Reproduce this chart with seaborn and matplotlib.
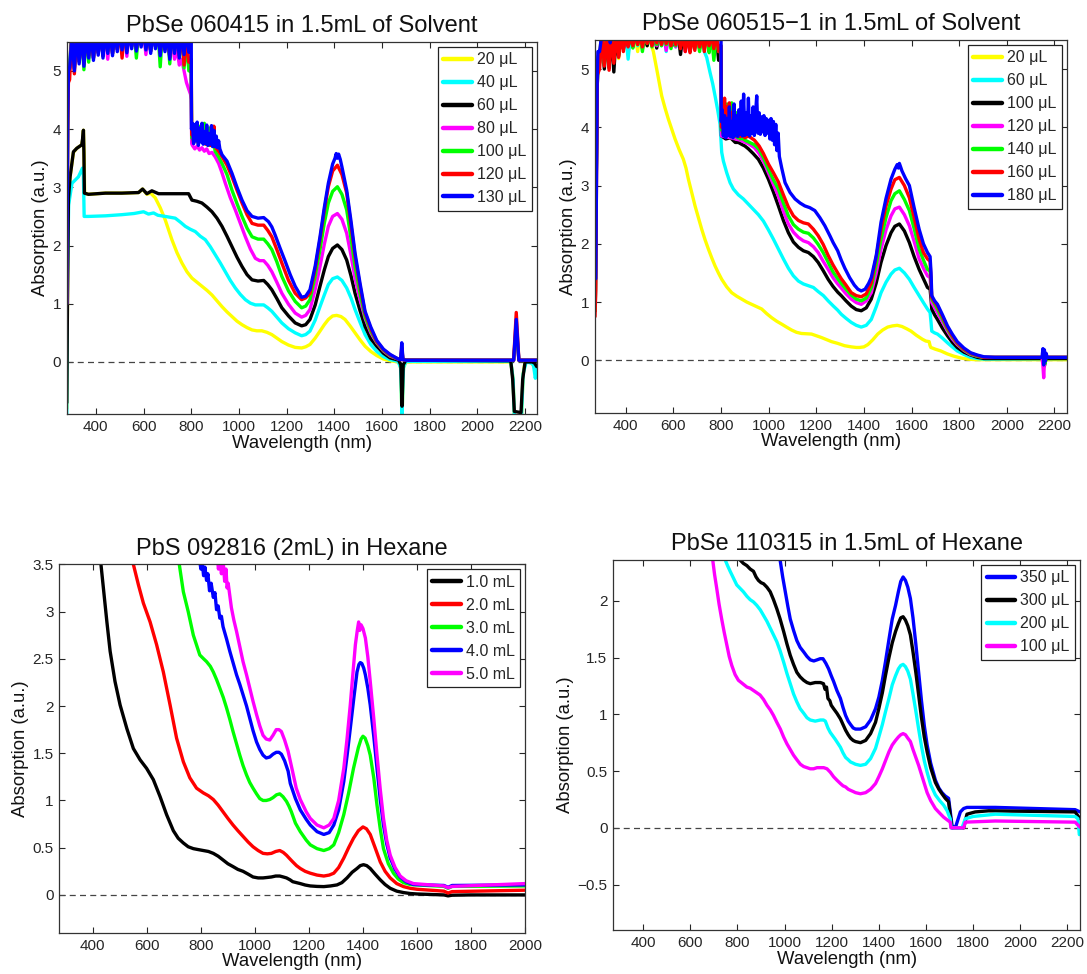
import matplotlib
matplotlib.use("Agg")
import matplotlib.pyplot as plt
from matplotlib.ticker import FuncFormatter
import numpy as np
import pandas as pd
import seaborn as sns

# ---------------------------------------------------------------------------
# Panel A : PbSe 060415 in 1.5mL of Solvent
# ---------------------------------------------------------------------------
a_title = "PbSe 060415 in 1.5mL of Solvent"
a_labels = ["20 \u03bcL", "40 \u03bcL", "60 \u03bcL", "80 \u03bcL", "100 \u03bcL", "120 \u03bcL", "130 \u03bcL"]
a_colors = ["#ffff00", "#00ffff", "#000000", "#ff00ff", "#00ff00", "#ff0000", "#0000ff"]

# wavelength grids of the detector-saturated stretches
a_sat_wl = np.arange(290, 800, 10)
a_noise_wl_long = np.arange(805, 925, 5)
a_noise_wl = np.arange(805, 905, 5)

a_20 = [(278, -0.8), (281, 1.0), (285, 2.8), (292, 3.18), (306, 3.6), (320, 3.67), (341, 3.73), (346, 3.85),
        (348, 3.98), (351, 3.5), (353, 2.9), (369, 2.88), (440, 2.9), (510, 2.9), (580, 2.91), (596, 2.97),
        (614, 2.88), (630, 2.9), (649, 2.82), (670, 2.65), (691, 2.44), (719, 2.10), (740, 1.88), (761, 1.70),
        (782, 1.55), (803, 1.44), (824, 1.37), (845, 1.30), (866, 1.23), (887, 1.15), (908, 1.05), (929, 0.95),
        (950, 0.86), (971, 0.78), (992, 0.70), (1013, 0.64), (1034, 0.59), (1055, 0.55), (1075, 0.535),
        (1096, 0.535), (1117, 0.51), (1138, 0.47), (1159, 0.41), (1180, 0.35), (1208, 0.29), (1236, 0.25),
        (1263, 0.24), (1280, 0.26), (1298, 0.30), (1320, 0.41), (1340, 0.53), (1358, 0.64), (1375, 0.73),
        (1393, 0.79), (1410, 0.80), (1428, 0.78), (1445, 0.73), (1466, 0.62), (1487, 0.50), (1508, 0.38),
        (1529, 0.27), (1553, 0.18), (1578, 0.11), (1606, 0.05), (1634, 0.02), (1670, 0.0), (1678, -0.1),
        (1684, -0.95), (1690, -0.1), (1700, 0.0), (2140, 0.0), (2150, -0.3), (2155, -0.95), (2185, -0.95),
        (2192, -0.2), (2200, 0.0), (2225, 0.0), (2240, -0.1), (2249, -0.25)]

a_40 = [(278, -0.95), (281, 1.5), (286, 2.7), (300, 3.07), (327, 3.18), (344, 3.33), (348, 3.2), (351, 2.5),
        (369, 2.50), (440, 2.51), (509, 2.53), (560, 2.55), (600, 2.58), (621, 2.54), (642, 2.56), (660, 2.52),
        (691, 2.50), (733, 2.47), (755, 2.40), (775, 2.33), (796, 2.28), (817, 2.24), (838, 2.16), (859, 2.10),
        (880, 1.98), (901, 1.84), (922, 1.70), (943, 1.55), (964, 1.40), (985, 1.27), (1006, 1.16), (1027, 1.07),
        (1048, 1.01), (1069, 0.98), (1087, 0.98), (1104, 0.98), (1121, 0.93), (1138, 0.87), (1159, 0.77),
        (1180, 0.67), (1208, 0.57), (1236, 0.50), (1263, 0.45), (1280, 0.47), (1298, 0.53), (1320, 0.72),
        (1340, 0.95), (1358, 1.15), (1375, 1.33), (1393, 1.43), (1413, 1.46), (1432, 1.40), (1452, 1.27),
        (1470, 1.10), (1487, 0.90), (1508, 0.68), (1529, 0.47), (1553, 0.30), (1578, 0.18), (1606, 0.09),
        (1634, 0.04), (1668, 0.01), (1678, -0.1), (1684, -0.95), (1690, -0.1), (1700, 0.01), (2140, 0.01),
        (2150, -0.3), (2155, -0.95), (2185, -0.95), (2192, -0.2), (2205, 0.0), (2225, -0.02), (2235, -0.05),
        (2243, -0.28), (2249, -0.12)]

a_60 = [(278, -0.7), (281, 1.0), (285, 2.8), (292, 3.18), (306, 3.61), (320, 3.67), (341, 3.73), (345, 3.85),
        (348, 3.98), (350, 3.6), (352, 2.9), (369, 2.88), (440, 2.90), (509, 2.90), (579, 2.91), (596, 2.97),
        (614, 2.89), (635, 2.94), (663, 2.89), (789, 2.89), (803, 2.78), (824, 2.76), (845, 2.73), (866, 2.66),
        (887, 2.58), (908, 2.47), (929, 2.33), (950, 2.16), (971, 1.98), (992, 1.80), (1013, 1.64), (1034, 1.50),
        (1055, 1.41), (1080, 1.39), (1104, 1.40), (1121, 1.33), (1138, 1.24), (1159, 1.09), (1180, 0.93),
        (1208, 0.79), (1236, 0.67), (1263, 0.62), (1280, 0.64), (1298, 0.73), (1320, 0.98), (1340, 1.30),
        (1358, 1.58), (1375, 1.81), (1393, 1.95), (1413, 2.01), (1432, 1.93), (1452, 1.75), (1470, 1.48),
        (1487, 1.18), (1508, 0.88), (1529, 0.61), (1553, 0.40), (1578, 0.27), (1606, 0.15), (1634, 0.07),
        (1670, 0.03), (1679, -0.05), (1684, -0.76), (1689, -0.05), (1700, 0.03), (2140, 0.02), (2148, -0.3),
        (2155, -0.85), (2183, -0.87), (2190, -0.3), (2200, 0.0), (2230, 0.0), (2240, -0.02), (2249, -0.08)]

a_80_head = [(278, 1.0), (282, 4.0), (285, 4.9)]
a_80_sat = [5.09, 5.7, 5.04, 5.7, 5.16, 5.7, 5.12, 5.7, 5.26, 5.7,
            5.22, 5.7, 5.31, 5.7, 5.26, 5.7, 5.2, 5.7, 5.3, 5.7,
            5.37, 5.7, 5.4, 5.7, 5.25, 5.7, 5.42, 5.7, 5.38, 5.7,
            5.45, 5.7, 5.28, 5.7, 5.34, 5.7, 5.42, 5.7, 5.3, 5.7,
            5.37, 5.6, 5.24, 5.5, 5.2, 5.4, 5.1, 5.2, 5.0, 4.8,
            4.68]
a_80_tail = [(797, 4.6), (800, 4.5), (802, 3.75), (805, 3.72), (815, 3.66), (825, 3.71), (835, 3.64), (845, 3.68),
             (855, 3.62), (865, 3.66), (875, 3.58), (887, 3.6), (901, 3.52), (915, 3.41), (929, 3.25), (943, 3.07),
             (964, 2.82), (985, 2.61), (1006, 2.38), (1027, 2.15), (1048, 1.94), (1069, 1.78), (1087, 1.74),
             (1104, 1.74), (1121, 1.66), (1138, 1.55), (1159, 1.37), (1180, 1.18), (1208, 0.99), (1236, 0.84),
             (1263, 0.77), (1280, 0.80), (1298, 0.90), (1320, 1.25), (1340, 1.64), (1358, 2.02), (1375, 2.33),
             (1393, 2.50), (1413, 2.55), (1432, 2.45), (1452, 2.21), (1470, 1.83), (1487, 1.44), (1508, 1.07),
             (1529, 0.75), (1553, 0.50), (1578, 0.33), (1606, 0.19), (1634, 0.10), (1668, 0.05), (1700, 0.03),
             (2152, 0.03), (2163, 0.55), (2174, 0.03), (2249, 0.03)]

a_100_head = [(278, 1.0), (282, 4.0), (285, 4.95)]
a_100_sat = [5.09, 5.7, 5.04, 5.7, 5.16, 5.7, 5.02, 5.7, 5.15, 5.7,
             5.22, 5.7, 5.31, 5.7, 5.26, 5.7, 5.34, 5.7, 5.3, 5.7,
             5.37, 5.7, 5.4, 5.7, 5.35, 5.7, 5.42, 5.7, 5.22, 5.7,
             5.45, 5.7, 5.4, 5.7, 5.34, 5.7, 5.42, 5.7, 5.07, 5.7,
             5.37, 5.7, 5.12, 5.7, 5.34, 5.7, 5.26, 5.7, 5.05, 5.5,
             5.0]
a_100_mid = [(797, 5.0), (800, 5.0), (802, 3.85)]
a_100_noise = [3.95, 3.78, 4.0, 3.82, 3.9, 3.75, 4.05, 3.8, 3.95, 3.76,
               4.1, 3.76, 3.9, 3.72, 4.02, 3.72, 3.88, 3.7, 3.8, 3.62]
a_100_tail = [(915, 3.52), (929, 3.41), (950, 3.22), (971, 2.95), (992, 2.72), (1013, 2.50), (1034, 2.30),
              (1055, 2.15), (1080, 2.11), (1104, 2.11), (1121, 2.03), (1138, 1.93), (1159, 1.72), (1180, 1.47),
              (1208, 1.22), (1236, 1.04), (1263, 0.93), (1280, 0.96), (1298, 1.07), (1320, 1.48), (1340, 1.93),
              (1358, 2.38), (1375, 2.73), (1393, 2.93), (1413, 3.01), (1432, 2.88), (1452, 2.61), (1470, 2.12),
              (1487, 1.64), (1508, 1.18), (1529, 0.78), (1553, 0.53), (1578, 0.34), (1606, 0.20), (1634, 0.11),
              (1668, 0.05), (1678, 0.04), (1683, 0.2), (1688, 0.04), (1700, 0.03), (2152, 0.03), (2163, 0.6),
              (2174, 0.03), (2249, 0.03)]

a_120_head = [(278, 1.0), (282, 4.0), (285, 4.8)]
a_120_sat = [4.85, 5.7, 4.95, 5.7, 5.16, 5.7, 5.12, 5.7, 5.26, 5.7,
             5.22, 5.7, 5.31, 5.7, 5.26, 5.7, 5.34, 5.7, 5.3, 5.7,
             5.37, 5.7, 5.22, 5.7, 5.35, 5.7, 5.42, 5.7, 5.38, 5.7,
             5.45, 5.7, 5.4, 5.7, 5.34, 5.7, 5.42, 5.7, 5.3, 5.7,
             5.37, 5.7, 5.24, 5.7, 5.34, 5.7, 5.26, 5.7, 5.1, 5.6,
             5.15]
a_120_mid = [(797, 5.2), (800, 5.2), (802, 3.9)]
a_120_noise = [4.0, 3.76, 3.95, 3.85, 4.05, 3.76, 3.9, 3.82, 4.0, 3.78,
               3.9, 3.74, 3.95, 3.76, 3.85, 3.72, 3.95, 3.74, 4.05, 3.7]
a_120_tail = [(915, 3.62), (929, 3.53), (950, 3.38), (971, 3.18), (992, 2.95), (1013, 2.73), (1034, 2.53),
              (1055, 2.38), (1080, 2.35), (1104, 2.35), (1121, 2.26), (1138, 2.15), (1159, 1.93), (1180, 1.70),
              (1208, 1.40), (1236, 1.18), (1263, 1.07), (1280, 1.10), (1298, 1.18), (1320, 1.60), (1340, 2.10),
              (1358, 2.60), (1375, 3.01), (1393, 3.28), (1413, 3.38), (1432, 3.22), (1452, 2.90), (1470, 2.35),
              (1487, 1.81), (1508, 1.30), (1529, 0.84), (1553, 0.57), (1578, 0.35), (1606, 0.21), (1634, 0.12),
              (1668, 0.05), (1678, 0.04), (1683, 0.25), (1688, 0.04), (1700, 0.03), (2152, 0.03), (2163, 0.85),
              (2174, 0.03), (2249, 0.03)]

a_130_head = [(278, 1.0), (282, 4.2), (285, 5.0)]
a_130_sat = [5.05, 5.6, 5.0, 5.7, 5.12, 5.7, 5.08, 5.7, 5.22, 5.7,
             5.18, 5.7, 5.27, 5.7, 5.22, 5.7, 5.3, 5.7, 5.26, 5.7,
             5.33, 5.7, 5.36, 5.7, 5.31, 5.7, 5.38, 5.7, 5.34, 5.7,
             5.41, 5.7, 5.36, 5.7, 5.3, 5.7, 5.38, 5.7, 5.26, 5.7,
             5.33, 5.7, 5.2, 5.7, 5.3, 5.7, 5.22, 5.7, 5.28, 5.7,
             5.32]
a_130_mid = [(797, 5.7), (800, 5.7), (801, 4.0)]
a_130_noise = [4.1, 3.75, 4.08, 3.8, 4.12, 3.72, 4.02, 3.78, 4.1, 3.74, 3.96, 3.75,
               4.07, 3.72, 3.92, 3.74, 4.06, 3.7, 3.98, 3.7, 3.88, 3.68, 3.8, 3.66]
a_130_tail = [(929, 3.56), (950, 3.45), (971, 3.24), (992, 3.00), (1013, 2.78), (1034, 2.60), (1055, 2.50),
              (1080, 2.47), (1104, 2.48), (1124, 2.41), (1138, 2.32), (1152, 2.18), (1173, 1.95), (1194, 1.73),
              (1215, 1.50), (1236, 1.30), (1263, 1.11), (1280, 1.13), (1298, 1.24), (1320, 1.65), (1340, 2.15),
              (1358, 2.65), (1375, 3.07), (1393, 3.40), (1403, 3.50), (1408, 3.58), (1413, 3.50), (1418, 3.57),
              (1425, 3.48), (1432, 3.35), (1452, 2.95), (1470, 2.42), (1487, 1.87), (1508, 1.35), (1529, 0.87),
              (1553, 0.60), (1578, 0.37), (1606, 0.22), (1634, 0.13), (1668, 0.05), (1678, 0.04), (1683, 0.33),
              (1688, 0.04), (1700, 0.03), (2152, 0.03), (2163, 0.73), (2174, 0.03), (2249, 0.03)]

# ---------------------------------------------------------------------------
# Panel B : PbSe 060515-1 in 1.5mL of Solvent
# ---------------------------------------------------------------------------
b_title = "PbSe 060515\u22121 in 1.5mL of Solvent"
b_labels = ["20 \u03bcL", "60 \u03bcL", "100 \u03bcL", "120 \u03bcL", "140 \u03bcL", "160 \u03bcL", "180 \u03bcL"]
b_colors = a_colors

b_sat_wl = np.arange(290, 800, 10)
b_noise_wl = np.arange(805, 905, 5)
b_noise_wl_long = np.arange(805, 1050, 5)

b_20_head = [(272, 0.9), (275, 2.5), (279, 4.5), (283, 5.2)]
b_20_sat = [5.3, 5.6, 5.35, 5.6, 5.3, 5.6, 5.38, 5.6, 5.18, 5.6,
            5.4, 5.6, 5.25, 5.6, 5.42, 5.6, 5.3, 5.6, 5.44, 5.6,
            5.4, 5.6, 5.38]
b_20_tail = [(516, 5.3), (530, 5.0), (551, 4.54), (565, 4.33), (579, 4.14), (593, 3.97), (607, 3.80),
             (624, 3.62), (642, 3.45), (653, 3.30), (663, 3.11), (677, 2.88), (691, 2.65), (705, 2.45),
             (719, 2.25), (733, 2.07), (747, 1.91), (761, 1.76), (775, 1.62), (789, 1.50), (803, 1.39),
             (824, 1.26), (845, 1.16), (866, 1.10), (887, 1.05), (908, 1.00), (929, 0.96), (950, 0.92),
             (971, 0.88), (992, 0.80), (1013, 0.73), (1034, 0.67), (1055, 0.62), (1075, 0.57), (1096, 0.52),
             (1117, 0.48), (1138, 0.46), (1159, 0.455), (1180, 0.45), (1201, 0.42), (1222, 0.39), (1243, 0.355),
             (1264, 0.32), (1290, 0.29), (1319, 0.25), (1347, 0.23), (1368, 0.22), (1382, 0.22), (1400, 0.23),
             (1417, 0.27), (1437, 0.35), (1458, 0.45), (1479, 0.52), (1500, 0.57), (1520, 0.59), (1540, 0.60),
             (1560, 0.58), (1580, 0.54), (1598, 0.50), (1620, 0.43), (1646, 0.36), (1660, 0.33), (1674, 0.32),
             (1678, 0.25), (1681, 0.22), (1700, 0.19), (1723, 0.16), (1750, 0.11), (1778, 0.07), (1806, 0.04),
             (1834, 0.02), (1870, 0.01), (2252, 0.01)]

b_60_head = [(272, 0.9), (275, 2.5), (279, 4.5), (283, 5.2)]
b_60_sat = [5.2, 5.6, 5.18, 5.6, 5.25, 5.6, 5.3, 5.6, 5.28, 5.6,
            5.35, 5.6, 5.17, 5.6, 5.38, 5.6, 5.4, 5.6, 5.36, 5.6,
            5.42, 5.6, 5.4, 5.6, 5.44, 5.6, 5.4, 5.6, 5.3, 5.6,
            5.42, 5.6, 5.38, 5.6, 5.44, 5.6, 5.4, 5.6, 5.42, 5.6,
            5.36, 5.6, 5.4, 5.6, 5.3]
b_60_tail = [(740, 5.2), (754, 4.94), (765, 4.75), (775, 4.54), (786, 4.3), (796, 4.05), (803, 3.57),
             (810, 3.42), (824, 3.22), (838, 3.05), (852, 2.94), (873, 2.84), (894, 2.77), (915, 2.68),
             (936, 2.59), (957, 2.50), (978, 2.39), (999, 2.24), (1020, 2.08), (1041, 1.91), (1062, 1.74),
             (1083, 1.58), (1104, 1.45), (1125, 1.36), (1146, 1.31), (1167, 1.28), (1188, 1.25), (1208, 1.18),
             (1230, 1.11), (1250, 1.02), (1272, 0.93), (1290, 0.86), (1305, 0.79), (1325, 0.72), (1347, 0.65),
             (1368, 0.60), (1389, 0.57), (1410, 0.60), (1431, 0.70), (1452, 0.92), (1472, 1.16), (1493, 1.34),
             (1514, 1.48), (1530, 1.55), (1549, 1.58), (1570, 1.50), (1591, 1.39), (1611, 1.25), (1632, 1.11),
             (1650, 0.99), (1667, 0.88), (1678, 0.82), (1682, 0.65), (1685, 0.50), (1697, 0.47), (1709, 0.45),
             (1730, 0.38), (1751, 0.30), (1771, 0.23), (1792, 0.16), (1820, 0.10), (1848, 0.05), (1876, 0.03),
             (1904, 0.02), (2252, 0.03)]

b_100_head = [(272, 0.85), (275, 2.5), (279, 4.5), (283, 5.1)]
b_100_sat = [5.1, 5.6, 5.0, 5.6, 5.02, 5.6, 4.95, 5.6, 5.22, 5.6,
             5.35, 5.6, 5.4, 5.6, 5.38, 5.6, 5.45, 5.6, 5.44, 5.6,
             5.4, 5.6, 5.42, 5.6, 5.36, 5.6, 5.45, 5.6, 5.38, 5.6,
             5.42, 5.6, 5.44, 5.6, 5.25, 5.6, 5.38, 5.6, 5.3, 5.6,
             5.4, 5.6, 5.35, 5.6, 5.4, 5.6, 5.3, 5.6, 5.42, 5.6,
             5.15]
b_100_tail = [(797, 5.3), (800, 5.3), (802, 3.85), (820, 3.8), (840, 3.82), (860, 3.74), (873, 3.74),
              (890, 3.70), (900, 3.68), (915, 3.63), (935, 3.55), (957, 3.45), (978, 3.30), (999, 3.11),
              (1020, 2.89), (1041, 2.65), (1062, 2.40), (1083, 2.19), (1104, 2.03), (1125, 1.94), (1146, 1.88),
              (1167, 1.85), (1188, 1.78), (1208, 1.68), (1229, 1.54), (1250, 1.39), (1270, 1.27), (1290, 1.17),
              (1305, 1.11), (1325, 1.02), (1347, 0.93), (1368, 0.87), (1389, 0.85), (1410, 0.90), (1431, 1.05),
              (1452, 1.33), (1472, 1.68), (1493, 1.97), (1514, 2.19), (1530, 2.30), (1549, 2.34), (1570, 2.22),
              (1591, 2.02), (1611, 1.78), (1632, 1.56), (1650, 1.40), (1667, 1.25), (1678, 1.22), (1682, 1.05),
              (1685, 0.88), (1697, 0.78), (1709, 0.70), (1730, 0.55), (1751, 0.42), (1771, 0.31), (1792, 0.22),
              (1820, 0.14), (1848, 0.09), (1876, 0.05), (1904, 0.03), (2150, 0.03), (2158, -0.1), (2165, 0.03),
              (2252, 0.03)]

b_120_head = [(272, 0.85), (275, 2.5), (279, 4.5), (283, 5.1)]
b_120_sat = [5.15, 5.6, 5.12, 5.6, 5.1, 5.6, 5.2, 5.6, 5.3, 5.6,
             5.36, 5.6, 5.42, 5.6, 5.4, 5.6, 5.46, 5.6, 5.35, 5.6,
             5.45, 5.6, 5.42, 5.6, 5.4, 5.6, 5.44, 5.6, 5.32, 5.6,
             5.45, 5.6, 5.38, 5.6, 5.42, 5.6, 5.3, 5.6, 5.4, 5.6,
             5.44, 5.6, 5.36, 5.6, 5.42, 5.6, 5.38, 5.6, 5.4, 5.6,
             5.35]
b_120_tail = [(797, 5.3), (800, 5.3), (802, 3.85), (840, 3.82), (880, 3.78), (915, 3.72), (940, 3.65),
              (960, 3.55), (978, 3.42), (999, 3.22), (1020, 3.02), (1041, 2.82), (1062, 2.56), (1083, 2.34),
              (1104, 2.20), (1125, 2.11), (1146, 2.05), (1167, 2.02), (1188, 1.95), (1208, 1.85), (1229, 1.70),
              (1250, 1.56), (1270, 1.42), (1290, 1.31), (1305, 1.24), (1325, 1.14), (1347, 1.05), (1368, 0.99),
              (1389, 0.96), (1410, 1.02), (1431, 1.16), (1452, 1.50), (1472, 1.91), (1493, 2.24), (1514, 2.48),
              (1530, 2.60), (1549, 2.63), (1570, 2.50), (1591, 2.31), (1611, 2.04), (1632, 1.74), (1650, 1.58),
              (1667, 1.45), (1678, 1.42), (1682, 1.2), (1685, 0.99), (1697, 0.90), (1709, 0.82), (1730, 0.66),
              (1751, 0.50), (1771, 0.37), (1792, 0.27), (1820, 0.17), (1848, 0.10), (1876, 0.07), (1904, 0.05),
              (2148, 0.05), (2152, -0.1), (2155, -0.30), (2158, -0.05), (2163, 0.1), (2168, 0.05), (2252, 0.05)]

b_140_head = [(272, 0.85), (275, 2.5), (279, 4.5), (283, 5.1)]
b_140_sat = [5.12, 5.6, 5.08, 5.6, 5.15, 5.6, 5.25, 5.6, 5.28, 5.6,
             5.4, 5.6, 5.44, 5.6, 5.36, 5.6, 5.42, 5.6, 5.3, 5.6,
             5.44, 5.6, 5.38, 5.6, 5.42, 5.6, 5.4, 5.6, 5.42, 5.6,
             5.35, 5.6, 5.4, 5.6, 5.44, 5.6, 5.36, 5.6, 5.42, 5.6,
             5.38, 5.6, 5.3, 5.6, 5.42, 5.6, 5.28, 5.6, 5.15, 5.6,
             5.3]
b_140_mid = [(797, 5.4), (800, 5.4), (802, 3.95)]
b_140_noise = [4.2, 3.88, 4.3, 3.85, 4.4, 3.88, 4.3, 3.84, 4.42, 3.86,
               4.2, 3.84, 4.25, 3.82, 4.1, 3.8, 4.05, 3.8, 3.95, 3.78]
b_140_tail = [(915, 3.75), (940, 3.7), (960, 3.62), (978, 3.48), (999, 3.28), (1020, 3.10), (1041, 2.94),
              (1062, 2.70), (1083, 2.48), (1104, 2.33), (1125, 2.25), (1146, 2.20), (1167, 2.18), (1188, 2.10),
              (1208, 1.99), (1229, 1.85), (1250, 1.68), (1270, 1.52), (1290, 1.40), (1305, 1.32), (1325, 1.22),
              (1347, 1.12), (1368, 1.05), (1389, 1.02), (1410, 1.07), (1431, 1.25), (1452, 1.65), (1472, 2.08),
              (1493, 2.45), (1514, 2.74), (1530, 2.86), (1549, 2.91), (1570, 2.76), (1591, 2.57), (1611, 2.26),
              (1632, 1.91), (1650, 1.72), (1667, 1.56), (1678, 1.53), (1682, 1.3), (1685, 1.05), (1697, 0.97),
              (1709, 0.88), (1730, 0.71), (1751, 0.53), (1771, 0.40), (1792, 0.29), (1820, 0.18), (1848, 0.11),
              (1876, 0.07), (1904, 0.05), (2150, 0.05), (2155, 0.15), (2160, -0.05), (2165, 0.05), (2252, 0.05)]

b_160_head = [(271, 0.75), (274, 1.2), (277, 3.0), (281, 4.9)]
b_160_sat = [5.0, 5.6, 5.05, 5.6, 4.98, 5.6, 5.1, 5.6, 5.2, 5.6,
             5.3, 5.6, 5.38, 5.6, 5.4, 5.6, 5.42, 5.6, 5.38, 5.6,
             5.44, 5.6, 5.4, 5.6, 5.45, 5.6, 5.42, 5.6, 5.44, 5.6,
             5.4, 5.6, 5.42, 5.6, 5.35, 5.6, 5.3, 5.6, 5.28, 5.6,
             5.32, 5.6, 5.38, 5.6, 5.3, 5.6, 5.4, 5.6, 5.35, 5.6,
             5.3]
b_160_mid = [(797, 5.4), (800, 5.4), (802, 4.0)]
b_160_noise = [4.45, 3.9, 4.5, 3.88, 4.35, 3.9, 4.42, 3.86, 4.25, 3.88,
               4.3, 3.85, 4.1, 3.86, 4.2, 3.84, 4.0, 3.85, 4.15, 3.82]
b_160_tail = [(915, 3.85), (940, 3.78), (960, 3.68), (978, 3.55), (999, 3.37), (1020, 3.22), (1041, 3.06),
              (1062, 2.84), (1083, 2.63), (1104, 2.48), (1125, 2.40), (1146, 2.36), (1167, 2.34), (1188, 2.25),
              (1208, 2.14), (1229, 1.99), (1250, 1.80), (1270, 1.64), (1290, 1.50), (1305, 1.40), (1325, 1.29),
              (1347, 1.16), (1368, 1.11), (1389, 1.09), (1410, 1.14), (1431, 1.33), (1452, 1.78), (1472, 2.25),
              (1493, 2.65), (1514, 2.94), (1530, 3.10), (1549, 3.14), (1570, 3.00), (1591, 2.79), (1611, 2.45),
              (1632, 2.08), (1650, 1.85), (1667, 1.74), (1678, 1.70), (1682, 1.35), (1685, 1.08), (1697, 1.0),
              (1709, 0.93), (1730, 0.75), (1751, 0.56), (1771, 0.42), (1792, 0.30), (1820, 0.19), (1848, 0.12),
              (1876, 0.08), (1904, 0.05), (2150, 0.05), (2154, 0.18), (2158, -0.02), (2163, 0.12), (2168, 0.05),
              (2252, 0.05)]

b_180_head = [(274, 1.4), (277, 3.0), (280, 4.8), (283, 5.3), (290, 5.3), (300, 5.6), (330, 5.6),
              (335, 5.45), (340, 5.6), (795, 5.6), (800, 5.6), (801, 4.1)]
b_180_noise = [4.3, 3.85, 4.2, 3.82, 4.15, 3.86, 4.35, 3.84, 4.1, 3.82,
               4.4, 3.86, 4.2, 3.84, 4.3, 3.88, 4.45, 3.85, 4.57, 3.86,
               4.25, 3.88, 4.5, 3.85, 4.2, 3.9, 4.35, 3.86, 4.22, 4.54,
               3.9, 4.25, 3.88, 4.18, 3.92, 4.2, 3.86, 4.15, 3.9, 4.12,
               3.8, 4.15, 3.78, 4.1, 3.7, 4.05, 3.6, 3.9, 3.5]
b_180_tail = [(1055, 3.3), (1069, 3.05), (1090, 2.88), (1111, 2.77), (1132, 2.70), (1152, 2.65), (1173, 2.62),
              (1194, 2.57), (1215, 2.45), (1236, 2.31), (1257, 2.14), (1271, 2.02), (1290, 1.88), (1305, 1.72),
              (1320, 1.58), (1340, 1.42), (1360, 1.29), (1375, 1.22), (1389, 1.19), (1405, 1.22), (1420, 1.32),
              (1431, 1.42), (1452, 1.8), (1472, 2.37), (1493, 2.78), (1514, 3.11), (1530, 3.28), (1540, 3.36),
              (1545, 3.30), (1549, 3.38), (1555, 3.31), (1560, 3.25), (1575, 3.12), (1591, 3.00), (1611, 2.62),
              (1632, 2.25), (1650, 2.0), (1667, 1.85), (1678, 1.78), (1682, 1.5), (1685, 1.11), (1697, 1.02),
              (1709, 0.96), (1730, 0.78), (1751, 0.59), (1771, 0.45), (1792, 0.32), (1820, 0.21), (1848, 0.13),
              (1876, 0.09), (1904, 0.06), (1950, 0.05), (2148, 0.05), (2152, 0.2), (2155, -0.08), (2158, 0.18),
              (2161, -0.02), (2165, 0.12), (2170, 0.05), (2252, 0.05)]

# ---------------------------------------------------------------------------
# Panel C : PbS 092816 (2mL) in Hexane
# ---------------------------------------------------------------------------
c_title = "PbS 092816 (2mL) in Hexane"
c_labels = ["1.0 mL", "2.0 mL", "3.0 mL", "4.0 mL", "5.0 mL"]
c_colors = ["#000000", "#ff0000", "#00ff00", "#0000ff", "#ff00ff"]

c_10 = [(425, 3.65), (430, 3.5), (439, 3.25), (452, 2.89), (464, 2.58), (482, 2.26), (501, 2.01), (526, 1.76),
        (550, 1.55), (575, 1.43), (599, 1.34), (624, 1.22), (649, 1.04), (673, 0.85), (698, 0.68), (716, 0.60),
        (735, 0.55), (753, 0.51), (772, 0.49), (790, 0.48), (809, 0.47), (828, 0.46), (846, 0.44), (864, 0.41),
        (882, 0.37), (900, 0.33), (919, 0.30), (937, 0.27), (956, 0.25), (975, 0.22), (993, 0.19), (1012, 0.18),
        (1030, 0.18), (1046, 0.185), (1061, 0.19), (1077, 0.20), (1092, 0.20), (1105, 0.19), (1117, 0.18),
        (1130, 0.16), (1140, 0.14), (1154, 0.13), (1168, 0.12), (1186, 0.105), (1205, 0.095), (1230, 0.09),
        (1255, 0.088), (1280, 0.095), (1304, 0.106), (1322, 0.13), (1341, 0.18), (1360, 0.24), (1378, 0.28),
        (1390, 0.31), (1402, 0.32), (1414, 0.31), (1427, 0.28), (1445, 0.22), (1464, 0.16), (1482, 0.11),
        (1501, 0.07), (1525, 0.04), (1550, 0.025), (1575, 0.015), (1600, 0.01), (1700, 0.0), (1715, -0.01),
        (1730, -0.003), (1800, 0.0), (2000, 0.0)]

c_20 = [(545, 3.6), (550, 3.5), (569, 3.28), (587, 3.09), (612, 2.89), (636, 2.65), (661, 2.36), (686, 2.01),
        (710, 1.66), (735, 1.41), (759, 1.24), (784, 1.13), (809, 1.08), (828, 1.05), (846, 1.01), (864, 0.95),
        (882, 0.88), (900, 0.81), (919, 0.74), (937, 0.68), (956, 0.62), (975, 0.56), (993, 0.51), (1012, 0.47),
        (1030, 0.44), (1046, 0.435), (1061, 0.44), (1077, 0.46), (1092, 0.47), (1105, 0.45), (1117, 0.42),
        (1130, 0.38), (1140, 0.35), (1154, 0.31), (1168, 0.28), (1186, 0.25), (1205, 0.23), (1230, 0.21),
        (1255, 0.20), (1275, 0.21), (1292, 0.23), (1310, 0.29), (1329, 0.39), (1347, 0.50), (1365, 0.60),
        (1383, 0.68), (1400, 0.72), (1413, 0.70), (1427, 0.64), (1445, 0.50), (1464, 0.35), (1482, 0.25),
        (1501, 0.18), (1525, 0.12), (1550, 0.088), (1575, 0.07), (1600, 0.06), (1700, 0.04), (1715, 0.02),
        (1730, 0.035), (2000, 0.05)]

c_30 = [(715, 3.6), (720, 3.5), (735, 3.21), (753, 3.0), (772, 2.75), (796, 2.54), (810, 2.5), (821, 2.47),
        (835, 2.42), (846, 2.36), (858, 2.28), (870, 2.19), (883, 2.09), (895, 1.98), (907, 1.86), (919, 1.73),
        (932, 1.60), (944, 1.48), (956, 1.37), (969, 1.27), (981, 1.19), (993, 1.13), (1006, 1.07), (1018, 1.02),
        (1030, 1.0), (1042, 1.0), (1055, 1.01), (1067, 1.03), (1080, 1.06), (1092, 1.07), (1104, 1.04),
        (1117, 0.99), (1126, 0.94), (1135, 0.88), (1150, 0.76), (1168, 0.67), (1190, 0.58), (1205, 0.53),
        (1230, 0.49), (1255, 0.47), (1275, 0.49), (1292, 0.53), (1310, 0.66), (1329, 0.85), (1347, 1.08),
        (1365, 1.34), (1383, 1.56), (1393, 1.65), (1400, 1.68), (1408, 1.66), (1418, 1.58), (1427, 1.48),
        (1440, 1.24), (1452, 0.95), (1464, 0.70), (1476, 0.49), (1494, 0.33), (1513, 0.23), (1530, 0.17),
        (1550, 0.13), (1575, 0.11), (1600, 0.106), (1700, 0.09), (1715, 0.07), (1730, 0.09), (2000, 0.095)]

c_40 = [(795, 3.55), (800, 3.45), (805, 3.52), (810, 3.38), (815, 3.47), (821, 3.33), (826, 3.40), (832, 3.22),
        (838, 3.30), (846, 3.15), (852, 3.20), (858, 3.02), (864, 3.06), (870, 2.93), (876, 2.95), (882, 2.84),
        (895, 2.71), (907, 2.58), (920, 2.45), (932, 2.33), (944, 2.23), (956, 2.12), (969, 2.00), (981, 1.87),
        (993, 1.74), (1006, 1.62), (1018, 1.54), (1030, 1.48), (1042, 1.45), (1055, 1.46), (1067, 1.49),
        (1079, 1.51), (1089, 1.51), (1098, 1.49), (1110, 1.42), (1123, 1.31), (1131, 1.18), (1150, 1.02),
        (1168, 0.90), (1190, 0.80), (1205, 0.74), (1230, 0.67), (1255, 0.64), (1275, 0.66), (1292, 0.74),
        (1310, 0.90), (1329, 1.20), (1341, 1.47), (1353, 1.76), (1366, 2.08), (1378, 2.36), (1385, 2.44),
        (1390, 2.46), (1396, 2.45), (1403, 2.40), (1409, 2.33), (1418, 2.19), (1427, 2.01), (1440, 1.68),
        (1452, 1.34), (1464, 1.01), (1476, 0.74), (1488, 0.54), (1501, 0.39), (1519, 0.27), (1538, 0.19),
        (1560, 0.14), (1587, 0.11), (1700, 0.10), (1715, 0.08), (1730, 0.10), (2000, 0.106)]

c_50 = [(860, 3.6), (865, 3.45), (870, 3.58), (876, 3.40), (882, 3.55), (888, 3.32), (893, 3.45), (897, 3.25),
        (901, 3.30), (913, 3.04), (922, 2.91), (932, 2.79), (944, 2.63), (956, 2.47), (969, 2.33), (981, 2.19),
        (993, 2.05), (1006, 1.91), (1018, 1.79), (1030, 1.69), (1042, 1.65), (1055, 1.64), (1067, 1.69),
        (1079, 1.75), (1089, 1.75), (1098, 1.73), (1110, 1.64), (1123, 1.52), (1140, 1.30), (1153, 1.13),
        (1168, 1.01), (1190, 0.88), (1205, 0.81), (1230, 0.74), (1255, 0.71), (1275, 0.74), (1292, 0.81),
        (1310, 1.0), (1329, 1.34), (1341, 1.65), (1353, 2.01), (1363, 2.35), (1372, 2.65), (1379, 2.80),
        (1384, 2.89), (1388, 2.80), (1393, 2.86), (1400, 2.82), (1409, 2.72), (1418, 2.52), (1427, 2.26),
        (1440, 1.87), (1452, 1.48), (1464, 1.12), (1476, 0.81), (1488, 0.58), (1501, 0.42), (1519, 0.29),
        (1538, 0.20), (1560, 0.15), (1587, 0.12), (1700, 0.095), (1715, 0.075), (1730, 0.09), (2000, 0.12)]

# ---------------------------------------------------------------------------
# Panel D : PbSe 110315 in 1.5mL of Hexane
# ---------------------------------------------------------------------------
d_title = "PbSe 110315 in 1.5mL of Hexane"
d_labels = ["350 \u03bcL", "300 \u03bcL", "200 \u03bcL", "100 \u03bcL"]
d_colors = ["#0000ff", "#000000", "#00ffff", "#ff00ff"]

d_350 = [(975, 2.45), (981, 2.36), (992, 2.21), (1003, 2.08), (1014, 1.95), (1024, 1.84), (1038, 1.74),
         (1052, 1.65), (1066, 1.59), (1081, 1.55), (1095, 1.51), (1109, 1.48), (1124, 1.47), (1138, 1.48),
         (1151, 1.49), (1163, 1.49), (1175, 1.45), (1187, 1.40), (1198, 1.34), (1208, 1.29), (1222, 1.21),
         (1237, 1.14), (1248, 1.06), (1259, 0.99), (1270, 0.94), (1280, 0.91), (1291, 0.88), (1301, 0.87),
         (1322, 0.87), (1344, 0.89), (1365, 0.95), (1386, 1.05), (1400, 1.15), (1415, 1.30), (1428, 1.46),
         (1443, 1.66), (1457, 1.84), (1471, 1.96), (1483, 2.08), (1493, 2.17), (1503, 2.21), (1513, 2.18),
         (1523, 2.12), (1534, 2.02), (1545, 1.85), (1557, 1.62), (1569, 1.37), (1581, 1.12), (1593, 0.90),
         (1605, 0.73), (1620, 0.57), (1640, 0.42), (1655, 0.35), (1668, 0.31), (1682, 0.28), (1696, 0.26),
         (1707, 0.08), (1712, 0.0), (1727, 0.015), (1746, 0.14), (1760, 0.17), (1774, 0.18), (1894, 0.18),
         (2233, 0.16), (2254, 0.14)]

d_300 = [(805, 2.45), (811, 2.36), (825, 2.33), (840, 2.31), (854, 2.28), (868, 2.26), (879, 2.21), (889, 2.18),
         (900, 2.16), (911, 2.15), (925, 2.12), (939, 2.08), (953, 2.01), (967, 1.93), (981, 1.84), (996, 1.73),
         (1010, 1.62), (1024, 1.52), (1038, 1.44), (1052, 1.37), (1066, 1.33), (1081, 1.30), (1095, 1.28),
         (1109, 1.27), (1130, 1.28), (1152, 1.28), (1165, 1.27), (1172, 1.22), (1178, 1.24), (1184, 1.14),
         (1192, 1.12), (1198, 1.08), (1208, 1.05), (1222, 1.01), (1237, 0.96), (1248, 0.91), (1259, 0.86),
         (1270, 0.82), (1280, 0.79), (1291, 0.77), (1301, 0.76), (1322, 0.75), (1344, 0.77), (1365, 0.83),
         (1386, 0.93), (1400, 1.05), (1415, 1.19), (1428, 1.34), (1443, 1.50), (1457, 1.63), (1471, 1.73),
         (1483, 1.80), (1493, 1.85), (1503, 1.86), (1513, 1.83), (1523, 1.78), (1534, 1.70), (1545, 1.55),
         (1557, 1.37), (1569, 1.17), (1581, 0.97), (1593, 0.80), (1605, 0.67), (1620, 0.53), (1640, 0.40),
         (1655, 0.34), (1668, 0.30), (1682, 0.26), (1696, 0.23), (1707, 0.05), (1710, 0.0), (1760, 0.0),
         (1774, 0.12), (1809, 0.14), (1866, 0.15), (2233, 0.14), (2254, 0.08)]

d_200 = [(740, 2.5), (748, 2.36), (758, 2.31), (769, 2.26), (783, 2.20), (797, 2.14), (811, 2.11), (825, 2.08),
         (840, 2.04), (854, 2.01), (868, 1.99), (882, 1.96), (897, 1.92), (911, 1.87), (925, 1.82), (939, 1.76),
         (953, 1.70), (967, 1.64), (981, 1.56), (996, 1.46), (1010, 1.36), (1024, 1.27), (1038, 1.18),
         (1052, 1.11), (1066, 1.05), (1081, 1.01), (1095, 0.97), (1109, 0.95), (1130, 0.94), (1152, 0.95),
         (1165, 0.95), (1173, 0.94), (1184, 0.88), (1194, 0.84), (1215, 0.78), (1237, 0.71), (1248, 0.66),
         (1259, 0.62), (1270, 0.60), (1280, 0.58), (1291, 0.57), (1301, 0.56), (1322, 0.55), (1344, 0.56),
         (1365, 0.61), (1386, 0.70), (1400, 0.80), (1415, 0.91), (1428, 1.02), (1443, 1.14), (1457, 1.26),
         (1471, 1.34), (1483, 1.40), (1493, 1.43), (1503, 1.44), (1513, 1.42), (1523, 1.38), (1534, 1.31),
         (1545, 1.18), (1557, 1.03), (1569, 0.87), (1581, 0.72), (1593, 0.59), (1605, 0.49), (1620, 0.38),
         (1640, 0.29), (1658, 0.24), (1675, 0.20), (1690, 0.15), (1703, 0.08), (1707, 0.0), (1753, 0.0),
         (1767, 0.08), (1800, 0.10), (1894, 0.12), (2233, 0.10), (2245, 0.08), (2251, -0.06)]

d_100 = [(690, 2.5), (695, 2.36), (703, 2.23), (712, 2.11), (722, 1.97), (733, 1.84), (744, 1.72), (755, 1.61),
         (765, 1.51), (776, 1.43), (790, 1.35), (804, 1.30), (822, 1.27), (840, 1.24), (854, 1.23), (868, 1.21),
         (882, 1.19), (896, 1.17), (911, 1.13), (925, 1.08), (939, 1.04), (953, 0.99), (967, 0.93), (982, 0.87),
         (996, 0.80), (1010, 0.74), (1024, 0.69), (1038, 0.64), (1052, 0.60), (1067, 0.56), (1081, 0.54),
         (1095, 0.53), (1109, 0.52), (1123, 0.52), (1138, 0.53), (1152, 0.53), (1166, 0.53), (1180, 0.52),
         (1194, 0.49), (1208, 0.45), (1222, 0.42), (1237, 0.39), (1248, 0.37), (1259, 0.36), (1270, 0.34),
         (1280, 0.33), (1291, 0.32), (1301, 0.31), (1322, 0.30), (1344, 0.31), (1365, 0.34), (1386, 0.39),
         (1400, 0.45), (1415, 0.52), (1428, 0.59), (1443, 0.67), (1457, 0.73), (1471, 0.77), (1483, 0.80),
         (1493, 0.82), (1503, 0.83), (1513, 0.82), (1523, 0.79), (1534, 0.76), (1545, 0.69), (1557, 0.62),
         (1569, 0.55), (1581, 0.47), (1593, 0.39), (1605, 0.31), (1620, 0.24), (1640, 0.17), (1658, 0.13),
         (1675, 0.094), (1690, 0.07), (1703, 0.05), (1706, 0.0), (1760, 0.0), (1767, 0.05), (1894, 0.06),
         (2233, 0.05), (2254, 0.006)]


# ---------------------------------------------------------------------------
def on_grid(grid, values):
    return list(zip(grid, values))


a_series = [
    a_20,
    a_40,
    a_60,
    a_80_head + on_grid(a_sat_wl, a_80_sat) + a_80_tail,
    a_100_head + on_grid(a_sat_wl, a_100_sat) + a_100_mid + on_grid(a_noise_wl, a_100_noise) + a_100_tail,
    a_120_head + on_grid(a_sat_wl, a_120_sat) + a_120_mid + on_grid(a_noise_wl, a_120_noise) + a_120_tail,
    a_130_head + on_grid(a_sat_wl, a_130_sat) + a_130_mid + on_grid(a_noise_wl_long, a_130_noise) + a_130_tail,
]
b_series = [
    b_20_head + on_grid(b_sat_wl, b_20_sat) + b_20_tail,
    b_60_head + on_grid(b_sat_wl, b_60_sat) + b_60_tail,
    b_100_head + on_grid(b_sat_wl, b_100_sat) + b_100_tail,
    b_120_head + on_grid(b_sat_wl, b_120_sat) + b_120_tail,
    b_140_head + on_grid(b_sat_wl, b_140_sat) + b_140_mid + on_grid(b_noise_wl, b_140_noise) + b_140_tail,
    b_160_head + on_grid(b_sat_wl, b_160_sat) + b_160_mid + on_grid(b_noise_wl, b_160_noise) + b_160_tail,
    b_180_head + on_grid(b_noise_wl_long, b_180_noise) + b_180_tail,
]
c_series = [c_10, c_20, c_30, c_40, c_50]
d_series = [d_350, d_300, d_200, d_100]

# ---------------------------------------------------------------------------
sns.set_style("ticks")
plt.rcParams["font.family"] = ["Liberation Sans", "DejaVu Sans"]
plt.rcParams["axes.unicode_minus"] = True

INK = "#262626"
LW = 2.4


def tick_fmt(v, _pos):
    return f"{v:g}".replace("-", "\u2212")


def draw_panel(ax, title, labels, colors, series, xlim, ylim, xticks, yticks):
    ax.axhline(0, color="#444444", lw=0.9, dashes=(4.8, 3.4), zorder=1)
    for lab, col, pts in zip(labels, colors, series):
        df = pd.DataFrame(pts, columns=["Wavelength", "Absorption"])
        sns.lineplot(data=df, x="Wavelength", y="Absorption", ax=ax, color=col, lw=LW,
                     label=lab, sort=False, estimator=None, errorbar=None, zorder=2)
    ax.set_xlim(*xlim)
    ax.set_ylim(*ylim)
    ax.set_xticks(xticks)
    ax.set_yticks(yticks)
    ax.yaxis.set_major_formatter(FuncFormatter(tick_fmt))
    ax.tick_params(direction="in", top=True, right=True, length=4.5, width=0.8,
                   labelsize=11, pad=4.2, colors=INK)
    for sp in ax.spines.values():
        sp.set_color("#333333")
        sp.set_linewidth(0.9)
    ax.set_title(title, fontsize=17, pad=7.0, color="#111111")
    ax.set_xlabel("Wavelength (nm)", fontsize=13.3, labelpad=0.5, color="#111111")
    ax.set_ylabel("Absorption (a.u.)", fontsize=13.3, labelpad=2.5, color="#111111")
    leg = ax.legend(loc="upper right", fontsize=11.5, frameon=True, fancybox=False,
                    borderpad=0.35, borderaxespad=0.3, labelspacing=0.5,
                    handlelength=1.8, handletextpad=0.3)
    leg.get_frame().set_edgecolor("#222222")
    leg.get_frame().set_linewidth(0.9)
    leg.get_frame().set_alpha(1.0)
    for h in leg.get_lines():
        h.set_linewidth(3.2)


fig = plt.figure(figsize=(10.87, 9.74), dpi=100)
ax_a = fig.add_axes([0.0614, 0.5746, 0.4324, 0.3825])
ax_b = fig.add_axes([0.5474, 0.5763, 0.4340, 0.3827])
ax_c = fig.add_axes([0.0546, 0.0424, 0.4284, 0.3782])
ax_d = fig.add_axes([0.5642, 0.0452, 0.4294, 0.3799])

draw_panel(ax_a, a_title, a_labels, a_colors, a_series, (278, 2249), (-0.9, 5.5),
           range(400, 2201, 200), range(0, 6))
draw_panel(ax_b, b_title, b_labels, b_colors, b_series, (271, 2252), (-0.9, 5.5),
           range(400, 2201, 200), range(0, 6))
draw_panel(ax_c, c_title, c_labels, c_colors, c_series, (276, 2000), (-0.4, 3.5),
           range(400, 2001, 200), np.arange(0, 3.51, 0.5))
draw_panel(ax_d, d_title, d_labels, d_colors, d_series, (273, 2254), (-0.9, 2.36),
           range(400, 2201, 200), np.arange(-0.5, 2.01, 0.5))

fig.savefig("out.png", dpi=100, facecolor="white")
